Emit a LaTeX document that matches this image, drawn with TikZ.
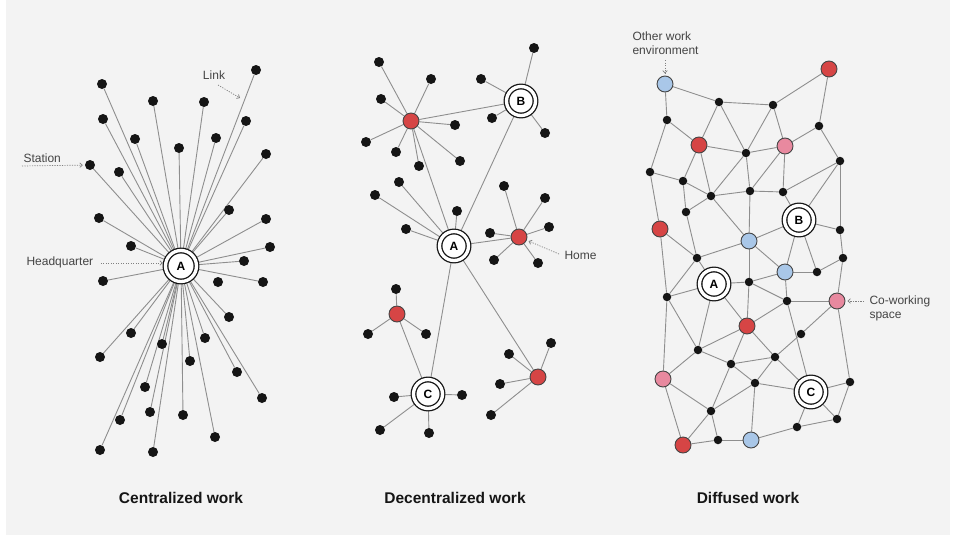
\documentclass[tikz,border=0pt]{standalone}
\usepackage{fontspec}
\setmainfont{Liberation Sans}
\usetikzlibrary{arrows.meta}
\pgfdeclarelayer{bgl}
\pgfdeclarelayer{edgel}
\pgfsetlayers{bgl,edgel,main}
\definecolor{bgc}{HTML}{F3F3F3}
\definecolor{edgec}{HTML}{8E8E8E}
\definecolor{redc}{HTML}{D64545}
\definecolor{bluec}{HTML}{A9C7E8}
\definecolor{pinkc}{HTML}{E8899F}
\definecolor{labc}{HTML}{444444}
\definecolor{dotc}{HTML}{151515}
\begin{document}
\begin{tikzpicture}[x=1pt,y=-1pt,
  dot/.style={circle,fill=dotc,inner sep=0pt,minimum size=10pt},
  sdot/.style={circle,fill=dotc,inner sep=0pt,minimum size=8.5pt},
  hub/.style={circle,draw=dotc,fill=white,double=white,double distance=3.3pt,line width=1.3pt,inner sep=0pt,minimum size=29pt,font=\bfseries\fontsize{12}{12}\selectfont},
  bighub/.style={hub,minimum size=31pt},
  rednode/.style={circle,draw=dotc!80,line width=0.9pt,fill=redc,inner sep=0pt,minimum size=16pt},
  bluenode/.style={rednode,fill=bluec},
  pinknode/.style={rednode,fill=pinkc},
  link/.style={draw=edgec,line width=0.9pt},
  note/.style={font=\fontsize{12}{14}\selectfont,text=labc},
  pointer/.style={draw=gray,dash pattern=on 1.2pt off 1.3pt,line width=0.7pt,-{Straight Barb[length=2.5pt,width=4.5pt]}},
  title/.style={font=\bfseries\fontsize{15.5}{15.5}\selectfont,text=dotc}]
\useasboundingbox (0,0) rectangle (955,536);
\begin{pgfonlayer}{bgl}
\fill[bgc] (6,0) rectangle (950,535);
\end{pgfonlayer}

% ---------------- Centralized ----------------
\node[bighub] (cA) at (181,266) {A};
\foreach \p [count=\i] in {(256,70),(102,84),(153,101),(204,102),(103,119),(246,121),(135,139),(179,148),(216,138),(266,154),(90,165),(119,172),(229,210),(99,218),(266,219),(131,246),(270,247),(244,261),(103,281),(218,282),(263,282),(229,317),(131,333),(162,344),(205,338),(100,357),(190,361),(237,372),(145,387),(262,398),(120,420),(150,412),(183,415),(215,437),(100,450),(153,452)}
  \node[dot] (c\i) at \p {};
\begin{pgfonlayer}{edgel}
\foreach \i in {1,...,19,21,22,...,36}
  \draw[link] (cA) -- (c\i);
\end{pgfonlayer}

\node[note] (linkL) at (214,75) {Link};
\coordinate (linkS) at (218,85);
\coordinate (linkE) at (240,98);
\draw[pointer] (linkS) -- (linkE);
\node[note,anchor=west] (stL) at (20,158) {Station};
\coordinate (stS) at (22,166);
\draw[pointer,shorten >=2pt] (stS) -- (c11);
\node[note,anchor=west] (hqL) at (23,262) {Headquarter};
\draw[pointer,shorten >=2pt] (hqL.east) ++(4,1) coordinate (hqS) -- (cA.west |- hqS);

\node[title] (t1) at (181,498) {Centralized work};

% ---------------- Decentralized ----------------
\node[hub] (dA) at (454,246) {A};
\node[hub] (dB) at (521,101) {B};
\node[hub] (dC) at (428,394) {C};
\node[rednode] (dR1) at (411,121) {};
\node[rednode] (dR2) at (519,237) {};
\node[rednode] (dR3) at (538,377) {};
\node[rednode] (dR4) at (397,314) {};
\foreach \p [count=\i] in {(379,62),(431,79),(381,99),(455,125),(366,142),(396,152),(419,166),(460,161)}
  \node[dot] (e1\i) at \p {};
\foreach \p [count=\i] in {(534,48),(481,79),(492,118),(545,133)}
  \node[dot] (eB\i) at \p {};
\foreach \p [count=\i] in {(399,182),(375,195),(457,211),(406,229)}
  \node[dot] (eA\i) at \p {};
\foreach \p [count=\i] in {(504,186),(545,198),(549,227),(490,233),(494,260),(538,263)}
  \node[dot] (e2\i) at \p {};
\foreach \p [count=\i] in {(396,289),(368,334),(426,334)}
  \node[dot] (e4\i) at \p {};
\foreach \p [count=\i] in {(394,397),(462,395),(380,430),(429,433)}
  \node[dot] (eC\i) at \p {};
\foreach \p [count=\i] in {(551,343),(509,354),(500,384),(491,415)}
  \node[dot] (e3\i) at \p {};
\begin{pgfonlayer}{edgel}
\foreach \i in {1,...,8} \draw[link] (dR1) -- (e1\i);
\foreach \i in {1,...,4} \draw[link] (dB) -- (eB\i);
\foreach \i in {1,...,4} \draw[link] (dA) -- (eA\i);
\foreach \i in {1,...,6} \draw[link] (dR2) -- (e2\i);
\foreach \i in {1,...,3} \draw[link] (dR4) -- (e4\i);
\foreach \i in {1,...,4} \draw[link] (dC) -- (eC\i);
\foreach \i in {1,...,4} \draw[link] (dR3) -- (e3\i);
\draw[link] (dR1) -- (dB);
\draw[link] (dR1) -- (dA);
\draw[link] (dB) -- (dA);
\draw[link] (dA) -- (dR2);
\draw[link] (dA) -- (dR3);
\draw[link] (dA) -- (dC);
\draw[link] (dR4) -- (dC);
\end{pgfonlayer}
\node[note,anchor=west] (homeL) at (561,255) {Home};
\coordinate (homeS) at (559,254);
\draw[pointer,shorten >=2pt] (homeS) -- (dR2);

\node[title] (t2) at (455,498) {Decentralized work};

% ---------------- Diffused ----------------
\node[bluenode] (bl1) at (665,84) {};
\node[rednode] (r0) at (829,69) {};
\node[sdot] (n1) at (719,102) {};
\node[sdot] (n2) at (773,105) {};
\node[sdot] (n3) at (667,120) {};
\node[sdot] (n4) at (819,126) {};
\node[rednode] (r1) at (699,145) {};
\node[sdot] (n5) at (746,153) {};
\node[pinknode] (p1) at (785,146) {};
\node[sdot] (n6) at (840,161) {};
\node[sdot] (n7) at (650,172) {};
\node[sdot] (n8) at (683,181) {};
\node[sdot] (n9) at (711,196) {};
\node[sdot] (n10) at (750,191) {};
\node[sdot] (n11) at (783,192) {};
\node[sdot] (n12) at (686,212) {};
\node[hub] (fB) at (799,220) {B};
\node[sdot] (n13) at (840,230) {};
\node[rednode] (r2) at (660,229) {};
\node[bluenode] (bl2) at (749,241) {};
\node[sdot] (n14) at (697,258) {};
\node[sdot] (n15) at (843,258) {};
\node[bluenode] (bl3) at (785,272) {};
\node[sdot] (n16) at (817,272) {};
\node[hub] (fA) at (714,284) {A};
\node[sdot] (n17) at (749,282) {};
\node[sdot] (n18) at (667,297) {};
\node[sdot] (n19) at (787,301) {};
\node[pinknode] (p2) at (837,301) {};
\node[rednode] (r3) at (747,326) {};
\node[sdot] (n20) at (801,334) {};
\node[sdot] (n21) at (698,350) {};
\node[sdot] (n22) at (775,357) {};
\node[sdot] (n23) at (731,364) {};
\node[pinknode] (p3) at (663,379) {};
\node[sdot] (n24) at (755,383) {};
\node[hub] (fC) at (811,392) {C};
\node[sdot] (n25) at (850,382) {};
\node[sdot] (n26) at (711,411) {};
\node[sdot] (n27) at (837,419) {};
\node[sdot] (n28) at (797,427) {};
\node[rednode] (r4) at (683,445) {};
\node[sdot] (n29) at (718,440) {};
\node[bluenode] (bl4) at (751,440) {};
\begin{pgfonlayer}{edgel}
\foreach \a/\b in {bl1/n1,bl1/n3,n1/n2,n2/r0,r0/n4,n1/r1,n1/n5,n2/n5,n2/p1,n3/r1,n3/n7,r1/n5,r1/n8,r1/n9,n5/p1,n5/n10,n5/n9,p1/n4,p1/n10,p1/n11,n4/n6,n6/n11,n6/fB,n6/n13,n7/n8,n7/r2,n8/n9,n8/n12,n9/n10,n10/n11,n9/n12,n9/bl2,n10/bl2,n11/fB,fB/bl2,fB/n13,n12/n14,r2/n14,r2/n18,bl2/n14,bl2/bl3,bl2/n17,fB/bl3,fB/n16,n13/n15,n14/fA,n14/n18,fA/n18,fA/n17,fA/n21,fA/r3,bl3/n17,bl3/n16,bl3/n19,n16/n15,n15/p2,n17/n19,n17/r3,n19/p2,n19/r3,n19/fC,p2/n20,n20/n22,p2/n25,n18/n21,n18/p3,r3/n21,r3/n23,r3/n22,n21/n23,n21/p3,n23/n22,n23/n24,n23/n26,n22/n24,n22/fC,n24/fC,n24/n26,n24/bl4,fC/n25,fC/n27,fC/n28,n25/n27,n27/n28,n28/bl4,p3/n26,p3/r4,n26/r4,n26/n29,r4/n29,n29/bl4}
  \draw[link] (\a) -- (\b);
\end{pgfonlayer}
\node[note,anchor=north west,align=left] (owL) at (629,28) {Other work\\environment};
\coordinate (owS) at (665,60);
\draw[pointer,shorten >=2pt] (owS) -- (bl1);
\node[note,anchor=west,align=left] (cwL) at (866,308) {Co-working\\space};
\coordinate (cwS) at (864,301);
\draw[pointer,shorten >=2pt] (cwS) -- (p2);

\node[title] (t3) at (748,498) {Diffused work};
\end{tikzpicture}
\end{document}
